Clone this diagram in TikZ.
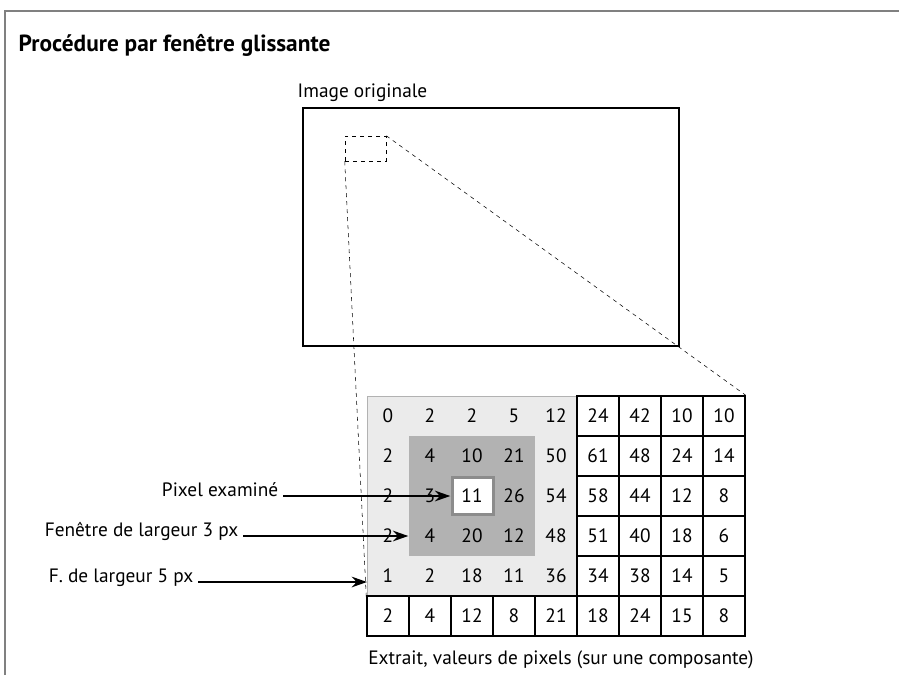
\documentclass[tikz,border=0pt]{standalone}
\usepackage{fontspec}
\setmainfont{PT Sans}
\usetikzlibrary{arrows.meta}
\definecolor{clair}{HTML}{EBEBEB}
\definecolor{fonce}{HTML}{B2B2B2}
\begin{document}
\begin{tikzpicture}[>={Stealth[length=11.5pt,width=8pt]},x=0.75pt,y=-0.75pt,
  font=\fontsize{14.5}{17}\selectfont,
  cell/.style={minimum width=31.5pt,minimum height=30pt,inner sep=0pt,line width=1.1pt},
  fleche/.style={->,line width=1.3pt}]
\useasboundingbox (0,0) rectangle (899,675);
\draw[gray,line width=1.1pt](5,675)--(5,11)--(899,11);
\node[anchor=west,font=\bfseries\fontsize{17.5}{20}\selectfont](titre) at (14,45){Procédure par fenêtre glissante};
% image originale
\node[draw,line width=1.5pt,minimum width=282pt,minimum height=179pt,inner sep=0pt](image) at (490.5,227){};
\node[anchor=west](limage) at (293,93){Image originale};
\node[draw,dashed,thin,minimum width=30.75pt,minimum height=18.75pt,inner sep=0pt](fen) at (365.5,148.5){};
% fenetres
\fill[clair,draw=gray!60,thin](367,396) rectangle (577,596);
\fill[fonce](409,436) rectangle (535,556);
\draw[fill=white,draw=gray!90,line width=2.2pt](452.5,477.5) rectangle (493.5,514.5);
% valeurs
\foreach \ligne [count=\r from 0] in {{0,2,2,5,12,24,42,10,10},{2,4,10,21,50,61,48,24,14},
  {2,3,11,26,54,58,44,12,8},{2,4,20,12,48,51,40,18,6},{1,2,18,11,36,34,38,14,5},{2,4,12,8,21,18,24,15,8}}
  \foreach \v [count=\c from 0] in \ligne {
    \pgfmathtruncatemacro\dedans{and(\r<5,\c<5)}
    \ifnum\dedans=1
      \node[cell](c\r\c) at ({388+42*\c},{416+40*\r}){\v};
    \else
      \node[cell,draw](c\r\c) at ({388+42*\c},{416+40*\r}){\v};
    \fi
  }
\draw[dashed,thin](fen.north east)--(c08.north east);
\draw[dashed,thin](fen.south west)--(c40.south west);
% legendes
\node[anchor=base east](lpix) at (283,496){Pixel examiné};
\node[anchor=base east](lf3) at (243,536){Fenêtre de largeur 3 px};
\node[anchor=base east](lf5) at (198,582){F. de largeur 5 px};
\coordinate (p5) at (367,582);
\draw[fleche](lpix.base east)--(c22.west);
\draw[fleche](lf3.base east)--(c31.west);
\draw[fleche](lf5.base east)--(p5);
\node(extrait) at (561,660){Extrait, valeurs de pixels (sur une composante)};
\end{tikzpicture}
\end{document}
